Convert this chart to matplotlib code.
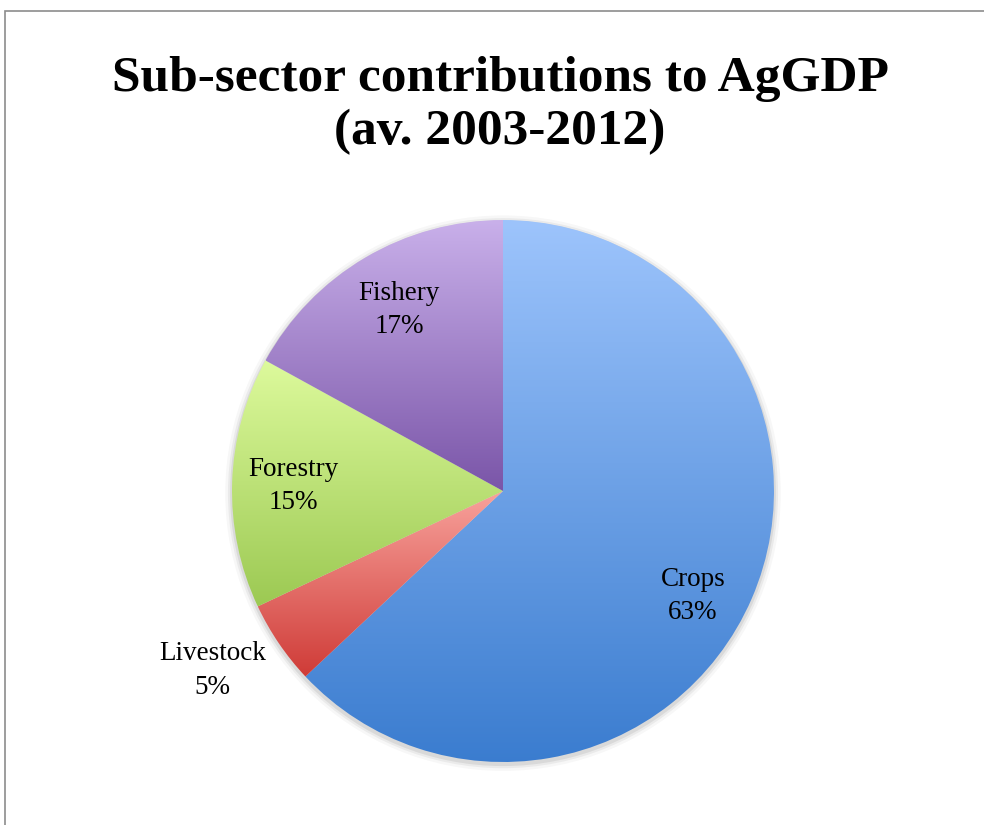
import matplotlib
matplotlib.use("Agg")
import matplotlib.pyplot as plt
import numpy as np
from matplotlib.colors import LinearSegmentedColormap
from matplotlib.patches import Rectangle, Circle

# data
sectors = ['Crops', 'Livestock', 'Forestry', 'Fishery']
shares = [63, 5, 15, 17]

# gradient colours for each slice (top -> bottom)
top_colors = ['#9dc4fc', '#f8a29c', '#ddfa9c', '#c9b0ea']
bottom_colors = ['#3a7ccf', '#cf3b37', '#9cc953', '#7a55a8']
label_dist = [0.80, 1.26, 0.775, 0.77]
label_shift = [-5.5, -2.5, 0.4, -0.8]   # degrees

W, H = 984, 825
fig = plt.figure(figsize=(W / 100, H / 100), dpi=100)
fig.patch.set_facecolor('white')

# frame around the chart area (runs off the right/bottom edge)
fig.patches.append(Rectangle((5 / W, -0.05), 1.1, 1 - 11 / H + 0.05,
                             transform=fig.transFigure, fill=False,
                             edgecolor='#8c8c8c', linewidth=1.2))

cx, cy, r = 503, 491, 271
ax = fig.add_axes([(cx - r) / W, (H - cy - r) / H, 2 * r / W, 2 * r / H])

# soft shadow behind the pie
for k, a in zip([1.025, 1.015, 1.007], [0.03, 0.05, 0.07]):
    ax.add_patch(Circle((0.0, -0.008), k, color='black', alpha=a, lw=0,
                        zorder=0, clip_on=False))

wedges, _ = ax.pie(shares, startangle=90, counterclock=False,
                   wedgeprops=dict(linewidth=0, facecolor='none'))

for w, c0, c1 in zip(wedges, top_colors, bottom_colors):
    verts = w.get_path().vertices
    ymin, ymax = verts[:, 1].min(), verts[:, 1].max()
    xmin, xmax = verts[:, 0].min(), verts[:, 0].max()
    cmap = LinearSegmentedColormap.from_list('g', [c1, c0])
    grad = np.linspace(0, 1, 256).reshape(-1, 1)
    im = ax.imshow(grad, cmap=cmap, origin='lower', aspect='auto',
                   extent=[xmin, xmax, ymin, ymax], interpolation='bilinear',
                   zorder=2)
    im.set_clip_path(w)

for w, name, val, d, s in zip(wedges, sectors, shares, label_dist, label_shift):
    ang = np.deg2rad((w.theta1 + w.theta2) / 2 + s)
    ax.text(d * np.cos(ang), d * np.sin(ang), f'{name}\n{val}%',
            ha='center', va='center', fontsize=19.5, family='Liberation Serif',
            linespacing=1.45, color='black', zorder=3)

ax.set_xlim(-1, 1)
ax.set_ylim(-1, 1)
ax.set_aspect('equal')
ax.axis('off')

fig.text(500 / W, 1 - 106 / H, 'Sub-sector contributions to AgGDP\n(av. 2003-2012)',
         ha='center', va='center', fontsize=37, fontweight='bold',
         family='Liberation Serif', linespacing=1.2)

fig.savefig('out.png', dpi=100)
